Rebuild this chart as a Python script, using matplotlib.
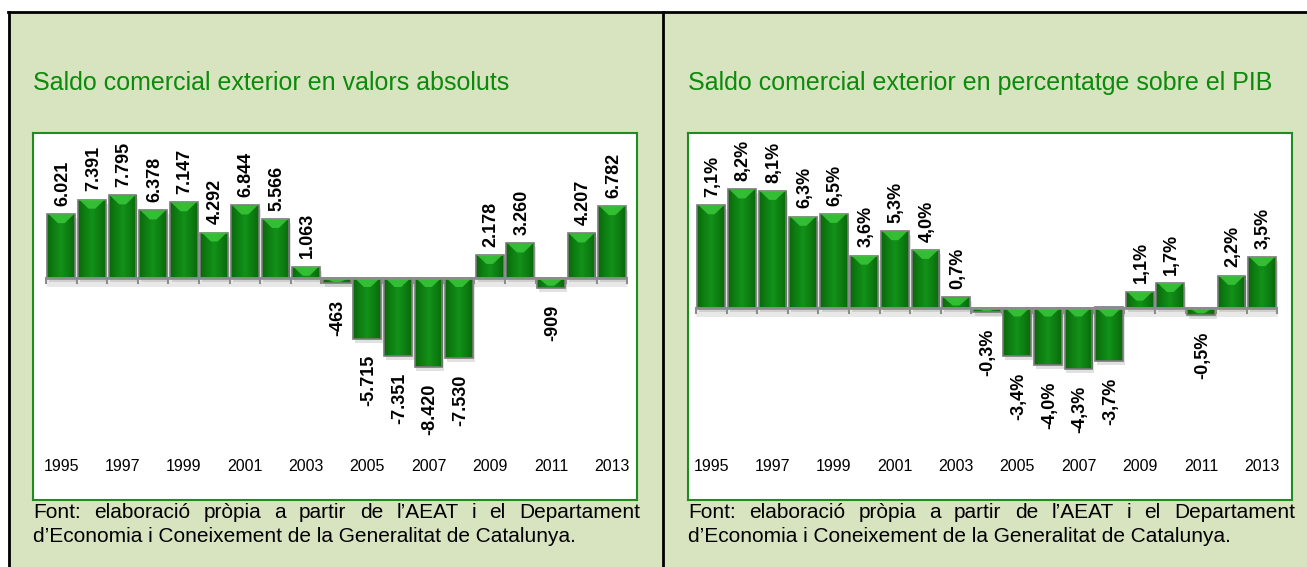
import numpy as np
import matplotlib
matplotlib.use("Agg")
import matplotlib.pyplot as plt
from matplotlib.patches import Rectangle, Polygon
from matplotlib.colors import LinearSegmentedColormap
from matplotlib.lines import Line2D

# Data
years = list(range(1995, 2014))
saldo_abs = [6021, 7391, 7795, 6378, 7147, 4292, 6844, 5566, 1063, -463,
             -5715, -7351, -8420, -7530, 2178, 3260, -909, 4207, 6782]
saldo_pib = [7.1, 8.2, 8.1, 6.3, 6.5, 3.6, 5.3, 4.0, 0.7, -0.3,
             -3.4, -4.0, -4.3, -3.7, 1.1, 1.7, -0.5, 2.2, 3.5]
abs_labels = ["6.021", "7.391", "7.795", "6.378", "7.147", "4.292", "6.844", "5.566", "1.063", "-463",
              "-5.715", "-7.351", "-8.420", "-7.530", "2.178", "3.260", "-909", "4.207", "6.782"]
pib_labels = ["7,1%", "8,2%", "8,1%", "6,3%", "6,5%", "3,6%", "5,3%", "4,0%", "0,7%", "-0,3%",
              "-3,4%", "-4,0%", "-4,3%", "-3,7%", "1,1%", "1,7%", "-0,5%", "2,2%", "3,5%"]
year_ticks = years[::2]

titles = ["Saldo comercial exterior en valors absoluts",
          "Saldo comercial exterior en percentatge sobre el PIB"]
font_line1 = "Font: elaboració pròpia a partir de l’AEAT i el Departament"
font_line2 = "d’Economia i Coneixement de la Generalitat de Catalunya."

W, H = 1307, 567
BG = "#d8e3bf"
SANS = ["Liberation Sans", "DejaVu Sans"]


def fx(x):
    return x / W


def fy(y):
    return 1 - y / H


fig = plt.figure(figsize=(W / 100, H / 100), dpi=100, facecolor="white")
renderer = fig.canvas.get_renderer()

# panel background and black frame lines (drawn under the axes)
fig.patches.append(Rectangle((fx(8), 0), 1 - fx(8), fy(12), transform=fig.transFigure,
                             facecolor=BG, edgecolor="none", zorder=-2))
fig.lines.append(Line2D([fx(8), 1], [fy(12), fy(12)], transform=fig.transFigure, color="black", lw=2))
fig.lines.append(Line2D([fx(9), fx(9)], [0, fy(12)], transform=fig.transFigure, color="black", lw=2))
fig.lines.append(Line2D([fx(663), fx(663)], [0, fy(12)], transform=fig.transFigure, color="black", lw=2))

bar_cmap = LinearSegmentedColormap.from_list("barg", ["#0a6a0a", "#12921a", "#0a6a0a"])


def justified(text, x0, x1, y, size):
    words = text.split(" ")
    objs = [fig.text(0, fy(y), w, fontsize=size, family=SANS, va="center", ha="left") for w in words]
    widths = [o.get_window_extent(renderer).width for o in objs]
    gap = ((x1 - x0) - sum(widths)) / (len(words) - 1)
    pos = x0
    for o, wd in zip(objs, widths):
        o.set_x(fx(pos))
        pos += wd + gap


def draw_panel(box, zero_y, scale, first_slot, values, labels, title):
    x0, y0, x1, y1 = box
    slot = 30.6
    ax = fig.add_axes([fx(x0), fy(y1), (x1 - x0) / W, (y1 - y0) / H])
    ax.set_facecolor("white")
    for s in ax.spines.values():
        s.set_color("#1e8c1e")
        s.set_linewidth(1.5)
    ax.set_xticks([])
    ax.set_yticks([])
    centre0 = first_slot + slot / 2
    ax.set_xlim(-(centre0 - x0) / slot, (x1 - centre0) / slot)
    ax.set_ylim(-(y1 - zero_y) / scale, (zero_y - y0) / scale)
    upp = 1.0 / scale  # data units per pixel
    n = len(values)

    # axis line with ticks at the slot edges
    ax.plot([-0.5, n - 0.5], [-upp * 5, -upp * 5], color="#999999", lw=5, alpha=0.22,
            solid_capstyle="butt", zorder=1)
    ax.plot([-0.5, n - 0.5], [0, 0], color="#8c8c8c", lw=2, solid_capstyle="butt", zorder=4)
    for k in range(n + 1):
        ax.plot([k - 0.5, k - 0.5], [0, -upp * 5], color="#8c8c8c", lw=1.5, zorder=4)

    bw = 0.91
    for i, v in enumerate(values):
        left = i - bw / 2
        bottom = min(0, v)
        top = max(0, v)
        # soft shadow
        ax.add_patch(Rectangle((left + 0.06, bottom - upp * 4), bw, top - bottom, facecolor="#777777",
                               edgecolor="none", alpha=0.22, zorder=2))
        rect = Rectangle((left, bottom), bw, top - bottom, facecolor="#108a10",
                         edgecolor="none", zorder=3)
        ax.add_patch(rect)
        grad = np.linspace(0, 1, 64).reshape(1, -1)
        im = ax.imshow(grad, cmap=bar_cmap, extent=(left, left + bw, bottom, top), aspect="auto",
                       zorder=3, interpolation="bicubic")
        im.set_clip_path(rect)
        ax.add_patch(Rectangle((left, bottom), bw, top - bottom, facecolor="none",
                               edgecolor="#7a7a7a", lw=1.2, zorder=3.5))
        # bright chevron at the top of each bar
        d = min(9 * upp, (top - bottom) * 0.8)
        ax.add_patch(Polygon([(left + 0.04, top), (left + bw - 0.04, top),
                              (left + bw * 0.62, top - d), (left + bw * 0.38, top - d)],
                             closed=True, facecolor="#3ccc3c", edgecolor="none", alpha=0.8, zorder=3.6))
        if v >= 0:
            ax.annotate(labels[i], (i, top), xytext=(1, 6), textcoords="offset points",
                        rotation=90, ha="center", va="bottom", fontsize=13, fontweight="bold",
                        family=SANS, zorder=5)
        else:
            ax.annotate(labels[i], (i, bottom), xytext=(1, -12), textcoords="offset points",
                        rotation=90, ha="center", va="top", fontsize=13, fontweight="bold",
                        family=SANS, zorder=5)

    for yr in year_ticks:
        ax.text(years.index(yr), 0.09, str(yr), transform=ax.get_xaxis_transform(),
                ha="center", va="center", fontsize=11.5, family=SANS)

    fig.text(fx(x0), fy(90), title, fontsize=18, color="#0b8a0b", family=SANS,
             ha="left", va="baseline")
    justified(font_line1, x0, x1 + 3, 513, 15)
    fig.text(fx(x0), fy(537), font_line2, fontsize=15, family=SANS, ha="left", va="center")
    return ax


draw_panel((33, 133, 637, 500), 278, 10.6 / 1000, 46, saldo_abs, abs_labels, titles[0])
draw_panel((688, 133, 1292, 500), 307.5, 14.4, 696, saldo_pib, pib_labels, titles[1])

fig.savefig("out.png", dpi=100, facecolor=fig.get_facecolor())
